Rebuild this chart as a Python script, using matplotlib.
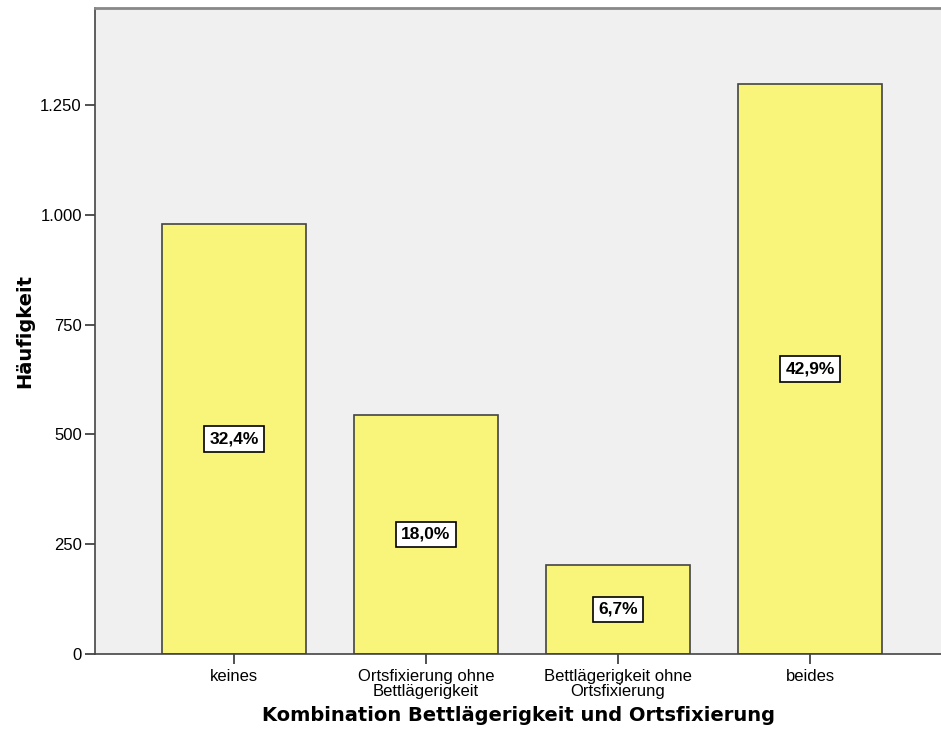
import matplotlib.pyplot as plt
from matplotlib.ticker import FuncFormatter

categories = ["keines", "Ortsfixierung ohne\nBettlägerigkeit",
              "Bettlägerigkeit ohne\nOrtsfixierung", "beides"]
counts = [980, 545, 203, 1297]
percent_labels = ["32,4%", "18,0%", "6,7%", "42,9%"]
y_ticks = [0, 250, 500, 750, 1000, 1250]

fig = plt.figure(figsize=(9.41, 7.38), dpi=100)
ax = fig.add_axes([0.101, 0.1138, 0.899, 0.8754])
ax.set_facecolor("#F0F0F0")

x = list(range(len(categories)))
ax.bar(x, counts, width=0.75, color="#F9F57A", edgecolor="#444444", linewidth=1.2, zorder=2)

for xi, c, lab in zip(x, counts, percent_labels):
    ax.text(xi, c / 2, lab, ha="center", va="center", fontsize=12.5, fontweight="bold",
            family=["Liberation Sans Narrow", "Liberation Sans", "DejaVu Sans"],
            bbox=dict(boxstyle="square,pad=0.3", facecolor="white", edgecolor="black", linewidth=1.2),
            zorder=3)

ax.set_xlim(-0.724, 3.682)
ax.set_ylim(0, 1471)
ax.set_xticks(x)
ax.set_xticklabels(categories, fontsize=12, family="Liberation Sans", linespacing=1.05)
ax.set_yticks(y_ticks)
ax.yaxis.set_major_formatter(FuncFormatter(lambda v, p: f"{int(v):,}".replace(",", ".")))
for t in ax.get_yticklabels():
    t.set_family("Liberation Sans")
    t.set_fontsize(12)

ax.tick_params(axis="both", length=7.5, width=1.2, color="#333333", pad=2)
ax.tick_params(axis="x", pad=3)
ax.spines["right"].set_visible(False)
ax.spines["top"].set_color("#888888")
ax.spines["top"].set_linewidth(2)
for s in ["left", "bottom"]:
    ax.spines[s].set_color("#444444")
    ax.spines[s].set_linewidth(1.2)

ax.set_xlabel("Kombination Bettlägerigkeit und Ortsfixierung", fontsize=14, fontweight="bold", labelpad=5)
ax.set_ylabel("Häufigkeit", fontsize=14, fontweight="bold", labelpad=4)

plt.savefig("out.png", dpi=100)
